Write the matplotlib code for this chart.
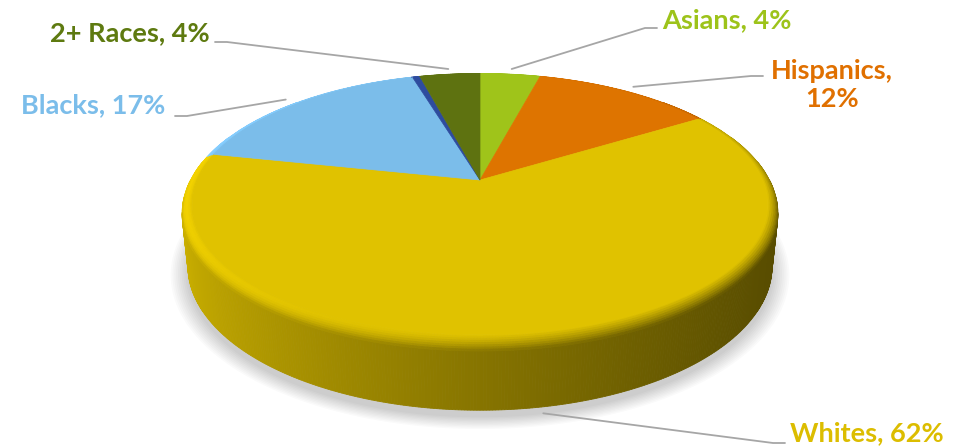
import numpy as np
import matplotlib
matplotlib.use('Agg')
import matplotlib.pyplot as plt
from matplotlib.patches import Polygon

# data, clockwise from 12 o'clock
groups = ['Asians', 'Hispanics', 'Whites', 'Blacks', 'Other', '2+ Races']
shares = [4, 12, 62, 17, 0.5, 4]
labels = ['Asians, 4%', 'Hispanics,\n12%', 'Whites, 62%', 'Blacks, 17%', None, '2+ Races, 4%']
colors = ['#9FC41A', '#DE7400', '#E0C200', '#7BBDEA', '#2E4C9E', '#5E7210']
text_colors = ['#9DC31A', '#E07000', '#DCBD00', '#7BBDEA', None, '#5E7A10']

# label placement (pixels) and where the leader line meets the label
label_xy = [(662, 20), (832, 85), (790, 433), (165, 105), None, (210, 33)]
label_ha = ['left', 'center', 'left', 'right', None, 'right']
leader_end = [(657, 28), (763, 76), (785, 443), (175, 116), None, (215, 42)]

# camera / projection (Excel-like 3D pie with perspective)
D = 4.59
ELEV = np.radians(26.4)
FOC = 1345
CX, CY = 480, 180
H = 0.229      # pie thickness
RB, ZB = 0.035, 0.03   # bevel size
cE, sE = np.cos(ELEV), np.sin(ELEV)
CAM = np.array([0.0, -D * cE, D * sE])
LIGHT = np.array([-0.26, 0.06, 0.34])


def project(x, y, z):
    vx, vy, vz = x, y + D * cE, z - D * sE
    depth = vy * cE - vz * sE
    up = vy * sE + vz * cE
    return CX + FOC * vx / depth, CY - FOC * up / depth


def pt(theta, r, z):
    return project(r * np.sin(theta), r * np.cos(theta), z)


def shade(col, n):
    f = 0.66 + np.dot(n, LIGHT)
    rgb = np.array(matplotlib.colors.to_rgb(col)) * f
    return tuple(np.clip(rgb, 0, 1))


frac = np.array(shares, dtype=float) / np.sum(shares)
bounds = np.concatenate([[0], np.cumsum(frac)]) * 2 * np.pi


def color_at(theta):
    i = np.searchsorted(bounds, theta, side='right') - 1
    return colors[min(i, len(colors) - 1)]


fig = plt.figure(figsize=(9.56, 4.48), dpi=100)
ax = fig.add_axes([0, 0, 1, 1])
ax.set_xlim(0, 956)
ax.set_ylim(448, 0)
ax.axis('off')

# soft shadow under the pie
ts = np.linspace(0, 2 * np.pi, 200)
for k in range(10):
    r = 1.0 + 0.006 * k
    xs, ys = zip(*[project(r * np.sin(t), r * np.cos(t) - 0.02, -H - 0.01) for t in ts])
    ax.add_patch(Polygon(np.column_stack([xs, ys]), closed=True,
                         fc='black', ec='none', alpha=0.018, zorder=1))

# side wall
thetas = np.linspace(0, 2 * np.pi, 721)
for t0, t1 in zip(thetas[:-1], thetas[1:]):
    tm = 0.5 * (t0 + t1)
    n = np.array([np.sin(tm), np.cos(tm), 0.0])
    p = np.array([np.sin(tm), np.cos(tm), -H / 2])
    if np.dot(n, CAM - p) <= 0:
        continue
    c = shade(color_at(tm), n)
    poly = [pt(t0, 1, -ZB), pt(t1, 1, -ZB), pt(t1, 1, -H), pt(t0, 1, -H)]
    ax.add_patch(Polygon(poly, closed=True, fc=c, ec=c, lw=0.6, zorder=2))

# rounded bevel on the top rim
alphas = np.linspace(0, np.pi / 2, 9)
for t0, t1 in zip(thetas[:-1], thetas[1:]):
    tm = 0.5 * (t0 + t1)
    col = color_at(tm)
    for a0, a1 in zip(alphas[:-1], alphas[1:]):
        am = 0.5 * (a0 + a1)
        n = np.array([np.sin(am) * np.sin(tm), np.sin(am) * np.cos(tm), np.cos(am)])
        rm = 1 - RB + RB * np.sin(am)
        p = np.array([rm * np.sin(tm), rm * np.cos(tm), -ZB + ZB * np.cos(am)])
        if np.dot(n, CAM - p) <= 0:
            continue
        c = shade(col, n)
        r0, z0 = 1 - RB + RB * np.sin(a0), -ZB + ZB * np.cos(a0)
        r1, z1 = 1 - RB + RB * np.sin(a1), -ZB + ZB * np.cos(a1)
        poly = [pt(t0, r0, z0), pt(t1, r0, z0), pt(t1, r1, z1), pt(t0, r1, z1)]
        ax.add_patch(Polygon(poly, closed=True, fc=c, ec=c, lw=0.6, zorder=3))

# top face
for i, col in enumerate(colors):
    ang = np.linspace(bounds[i], bounds[i + 1], max(3, int(360 * frac[i]) + 2))
    poly = [project(0, 0, 0)] + [pt(t, 1 - RB, 0) for t in ang]
    ax.add_patch(Polygon(poly, closed=True, fc=col, ec=col, lw=0.5, zorder=4))

# labels with leader lines
for i, txt in enumerate(labels):
    if txt is None:
        continue
    mid = 0.5 * (bounds[i] + bounds[i + 1])
    z = -H if np.cos(mid) < 0 else 0
    ax_, ay_ = pt(mid, 1.03, z)
    ex, ey = leader_end[i]
    elbow = ex - 12 if ax_ < ex else ex + 12
    ax.plot([ax_, elbow, ex], [ay_, ey, ey], color='#A6A6A6', lw=1.3,
            solid_capstyle='round', zorder=5)
    lx, ly = label_xy[i]
    ax.text(lx, ly, txt, ha=label_ha[i], va='center', ma='center',
            color=text_colors[i], fontsize=19.5, fontweight='bold',
            family=['Lato', 'DejaVu Sans'], linespacing=1.2, zorder=6)

fig.savefig('out.png', dpi=100)
